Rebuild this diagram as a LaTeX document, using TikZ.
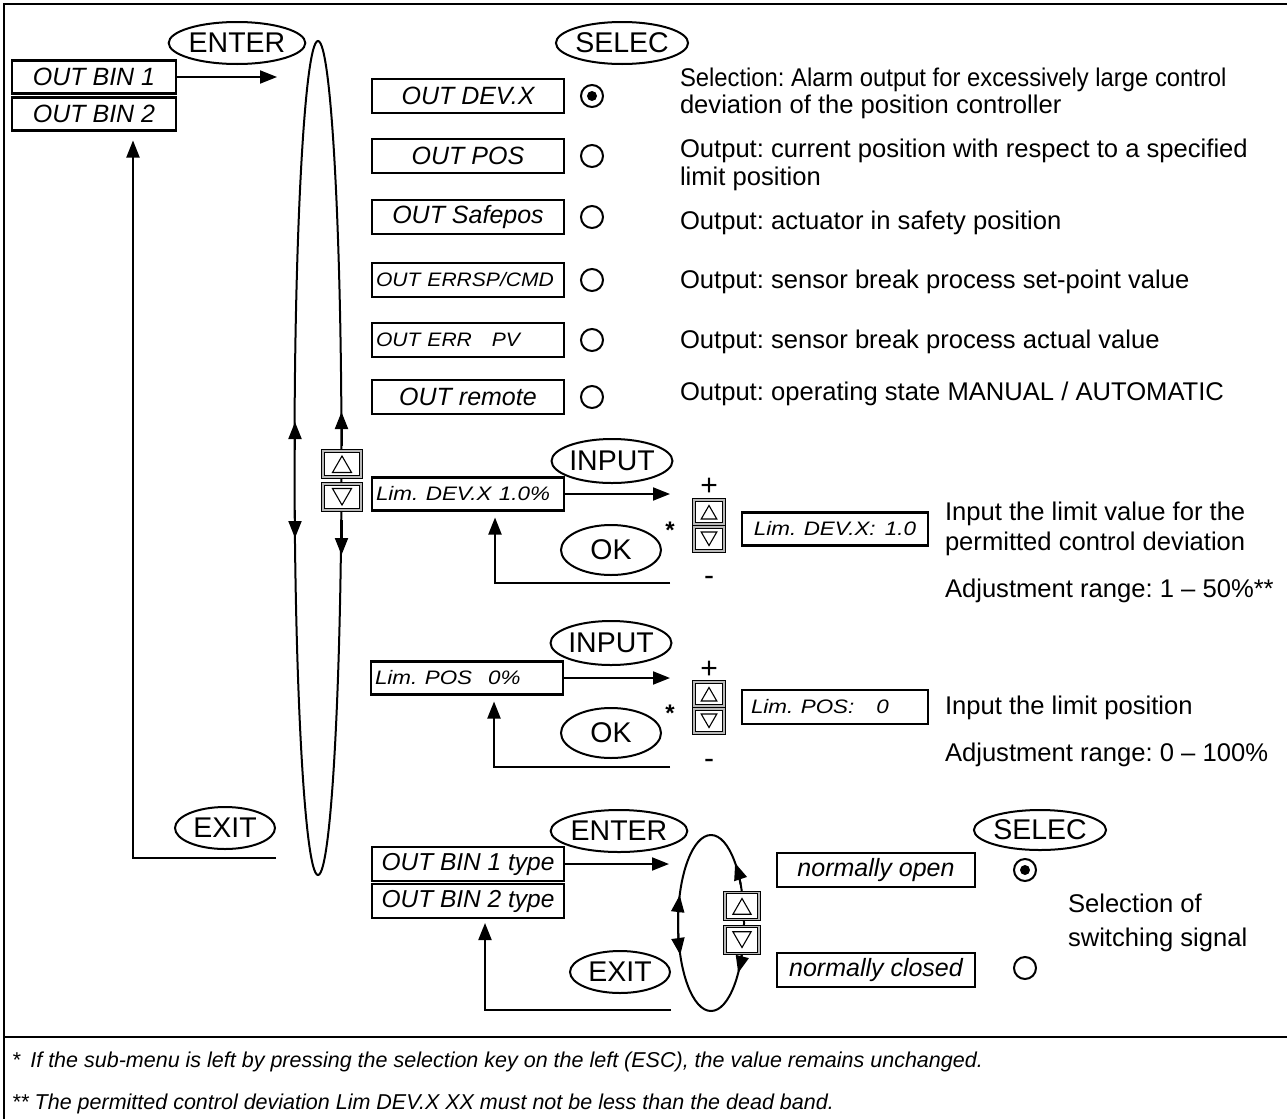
\documentclass[tikz,border=0pt]{standalone}
\usepackage{fontspec}
\usepackage{graphicx}
\setmainfont{Liberation Sans}
\usetikzlibrary{arrows.meta,shapes.geometric}
\newcommand{\wideT}[1]{\scalebox{1.15}[1]{#1}}
\newcommand{\wideU}[1]{\scalebox{1.08}[1]{#1}}
\frenchspacing
\begin{document}
\begin{tikzpicture}[x=1pt,y=-1pt,
  every node/.style={inner sep=0pt, outer sep=0pt},
  box/.style={draw, line width=2.5pt, minimum width=192pt, minimum height=34pt, font=\fontsize{25}{28}\selectfont\itshape},
  sbox/.style={box, text width=184pt, align=left, font=\fontsize{19.5}{22}\selectfont\itshape},
  key/.style={draw, line width=0.9pt, double=gray!55, double distance=1.4pt, fill=white},
  triup/.style={draw, line width=1.1pt, regular polygon, regular polygon sides=3, minimum size=#1},
  tridn/.style={triup=#1, shape border rotate=180},
  btn/.style={draw, ellipse, line width=2pt, font=\fontsize{28.5}{30}\selectfont},
  desc/.style={anchor=base west, font=\fontsize{25.6}{28}\selectfont},
  foot/.style={anchor=base west, font=\fontsize{21.5}{24}\selectfont\itshape},
  arr/.style={line width=2pt, -{Triangle[length=17pt,width=13pt]}},
  radio/.style={draw, circle, line width=2pt, minimum size=22pt},
  star/.style={font=\fontsize{24}{26}\selectfont\bfseries},
  pm/.style={font=\fontsize{30}{32}\selectfont},
]
\useasboundingbox (0,0) rectangle (1287,1119);

% frame
\draw[line width=2pt] (1287,4) -- (4,4) -- (4,1119);
\draw[line width=2pt] (4,1037) -- (1287,1037);

% ---------- left column ----------
\node[box, minimum width=164pt, minimum height=33pt] (bin1) at (94,77) {OUT BIN 1};
\node[box, minimum width=164pt, minimum height=33pt] (bin2) at (94,114) {OUT BIN 2};
\node[btn, minimum width=104pt, minimum height=42pt] (enter1) at (237,43) {ENTER};
\coordinate (enter1tip) at (277,77);
\draw[arr] (bin1.east) -- (enter1tip);

\node[btn, minimum width=100pt, minimum height=42pt] (exit1) at (225,828) {EXIT};
\coordinate (exit1start) at (276,858);
\draw[arr, shorten >=10pt] (exit1start) -| ([xshift=39pt]bin2.south);

% big ellipse
\node[draw, ellipse, line width=2pt, minimum width=47pt, minimum height=834pt] (bigell) at (318,458) {};
\draw[arr] (295,450) -- (295,422);
\draw[arr] (295,510) -- (295,538);
\draw[arr] (341.5,446) -- (341.5,412);
\draw[arr] (341.5,520) -- (341.5,555);
\node[key, minimum width=38pt, minimum height=26pt] (k1u) at (342,464) {};
\node[triup=22pt] (t1u) at ([yshift=-3pt]k1u.center) {};
\node[key, minimum width=38pt, minimum height=26pt] (k1d) at (342,497) {};
\node[tridn=22pt] (t1d) at ([yshift=3pt]k1d.center) {};

% ---------- options ----------
\node[btn, minimum width=102pt, minimum height=42pt] (selec1) at (622,43) {SELEC};

\node[box] (o1) at (468,96) {OUT DEV.X};
\node[box] (o2) at (468,156) {OUT POS};
\node[box] (o3) at (468,217) {OUT Safepos};
\node[sbox] (o4) at (468,280) {\wideU{OUT ERRSP/CMD}};
\node[sbox] (o5) at (468,340) {\wideU{OUT ERR}\hspace{20pt}\wideU{PV}};
\node[box] (o6) at (468,397) {OUT remote};

\node[radio] (r1) at (592,96) {};
\fill (r1.center) circle[radius=5pt];
\node[radio] (r2) at (592,156) {};
\node[radio] (r3) at (592,217) {};
\node[radio] (r4) at (592,280) {};
\node[radio] (r5) at (592,340) {};
\node[radio] (r6) at (592,397) {};

\node[desc] (d1a) at (680,86) {\scalebox{0.93}[1]{Selection: Alarm output for excessively large control}};
\node[desc] (d1b) at (680,113) {deviation of the position controller};
\node[desc] (d2a) at (680,157) {Output: current position with respect to a specified};
\node[desc] (d2b) at (680,185) {limit position};
\node[desc] (d3) at (680,229) {Output: actuator in safety position};
\node[desc] (d4) at (680,288) {Output: sensor break process set-point value};
\node[desc] (d5) at (680,348) {Output: sensor break process actual value};
\node[desc] (d6) at (680,400) {Output: operating state MANUAL / AUTOMATIC};

% ---------- Lim DEV ----------
\node[btn, minimum width=96pt, minimum height=44pt] (input1) at (612,461) {INPUT};
\node[sbox, minimum height=33pt] (limdev) at (468,494) {\wideT{Lim. DEV.X 1.0\%}};
\coordinate (input1tip) at (670,494);
\draw[arr] (limdev.east) -- (input1tip);
\node[btn, minimum width=100pt, minimum height=50pt] (ok1) at (611,550) {OK};
\node[star] (st1) at (670,530) {*};
\coordinate (ok1start) at (670,583);
\draw[arr, shorten >=7pt] (ok1start) -| ([xshift=27pt]limdev.south);
\node[pm] (plus1) at (709,487) {+};
\node[key, minimum width=30pt, minimum height=24pt] (k2u) at (709,512) {};
\node[triup=18pt] (t2u) at ([yshift=-2.5pt]k2u.center) {};
\node[key, minimum width=30pt, minimum height=24pt] (k2d) at (709,539) {};
\node[tridn=18pt] (t2d) at ([yshift=2.5pt]k2d.center) {};
\node[pm] (minus1) at (709,581) {-};
\node[sbox, minimum width=186pt, text width=176pt, minimum height=33pt, align=center] (limdevv) at (835,529) {\wideT{Lim. DEV.X:\hspace{8pt}1.0}};
\node[desc] (e1a) at (945,520) {Input the limit value for the};
\node[desc] (e1b) at (945,550) {permitted control deviation};
\node[desc] (e1c) at (945,597) {Adjustment range: 1 -- 50\%**};

% ---------- Lim POS ----------
\node[btn, minimum width=96pt, minimum height=44pt] (input2) at (611,643) {INPUT};
\node[sbox, minimum height=33pt] (limpos) at (467,678) {\wideT{Lim. POS}\hspace{16pt}\wideT{0\%}};
\coordinate (input2tip) at (670,678);
\draw[arr] (limpos.east) -- (input2tip);
\node[btn, minimum width=100pt, minimum height=50pt] (ok2) at (611,733) {OK};
\node[star] (st2) at (670,713) {*};
\coordinate (ok2start) at (670,767);
\draw[arr, shorten >=7pt] (ok2start) -| ([xshift=27pt]limpos.south);
\node[pm] (plus2) at (709,670) {+};
\node[key, minimum width=30pt, minimum height=24pt] (k3u) at (709,694) {};
\node[triup=18pt] (t3u) at ([yshift=-2.5pt]k3u.center) {};
\node[key, minimum width=30pt, minimum height=24pt] (k3d) at (709,721) {};
\node[tridn=18pt] (t3d) at ([yshift=2.5pt]k3d.center) {};
\node[pm] (minus2) at (709,764) {-};
\node[sbox, minimum width=186pt, text width=176pt, minimum height=34pt] (limposv) at (835,707) {\hspace{4pt}\wideT{Lim. POS:}\hspace{22pt}\wideT{0}};
\node[desc] (f1a) at (945,714) {Input the limit position};
\node[desc] (f1b) at (945,761) {Adjustment range: 0 -- 100\%};

% ---------- BIN type ----------
\node[btn, minimum width=104pt, minimum height=42pt] (enter2) at (619,831) {ENTER};
\node[box, minimum height=34pt, font=\fontsize{24.5}{28}\selectfont\itshape] (bt1) at (468,864) {OUT BIN 1 type};
\node[box, minimum height=34pt, font=\fontsize{24.5}{28}\selectfont\itshape] (bt2) at (468,901) {OUT BIN 2 type};
\coordinate (enter2tip) at (669,864);
\draw[arr] (bt1.east) -- (enter2tip);
\node[btn, minimum width=100pt, minimum height=42pt] (exit2) at (620,972) {EXIT};
\coordinate (exit2start) at (671,1010);
\draw[arr, shorten >=5pt] (exit2start) -| ([xshift=17pt]bt2.south);

\node[draw, ellipse, line width=2pt, minimum width=66pt, minimum height=176pt] (smell) at (711,923) {};
\draw[arr] plot[domain=180:198.5, samples=10] ({711+33*cos(\x)},{923+88*sin(\x)});
\draw[arr] plot[domain=180:158.7, samples=10] ({711+33*cos(\x)},{923+88*sin(\x)});
\draw[arr] plot[domain=-26:-43, samples=10] ({711+33*cos(\x)},{923+88*sin(\x)});
\draw[arr] plot[domain=20:34.6, samples=10] ({711+33*cos(\x)},{923+88*sin(\x)});
\node[key, minimum width=34pt, minimum height=27pt] (k4u) at (742,906) {};
\node[triup=21pt] (t4u) at ([yshift=-3pt]k4u.center) {};
\node[key, minimum width=34pt, minimum height=27pt] (k4d) at (742,940) {};
\node[tridn=21pt] (t4d) at ([yshift=3pt]k4d.center) {};

\node[btn, minimum width=102pt, minimum height=40pt] (selec2) at (1040,830) {SELEC};
\node[box, minimum width=198pt] (no) at (876,870) {normally open};
\node[box, minimum width=198pt] (nc) at (876,970) {normally closed};
\node[radio] (r7) at (1025,870) {};
\fill (r7.center) circle[radius=5pt];
\node[radio] (r8) at (1025,968) {};
\node[desc] (g1) at (1068,912) {Selection of};
\node[desc] (g2) at (1068,946) {switching signal};

% ---------- footnotes ----------
\node[foot] (fn1) at (12,1067) {*\hspace{10pt}If the sub-menu is left by pressing the selection key on the left (ESC), the value remains unchanged.};
\node[foot] (fn2) at (12,1109) {** The permitted control deviation Lim DEV.X XX must not be less than the dead band.};
\end{tikzpicture}
\end{document}
